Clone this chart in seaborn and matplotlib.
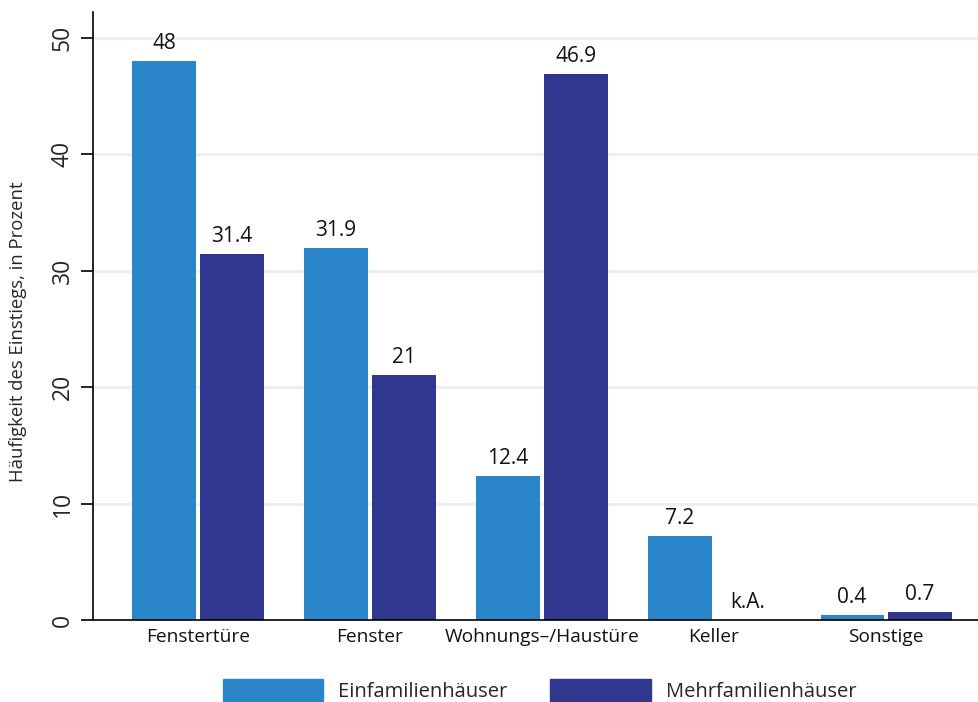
import numpy as np
import pandas as pd
import matplotlib
matplotlib.use("Agg")
import matplotlib.pyplot as plt
import seaborn as sns

# Einstiegsstellen und Anteile (in Prozent)
categories = ["Fenstertüre", "Fenster", "Wohnungs\u2013/Haustüre", "Keller", "Sonstige"]
einfamilien = [48.0, 31.9, 12.4, 7.2, 0.4]
mehrfamilien = [31.4, 21.0, 46.9, np.nan, 0.7]   # Keller: keine Angabe
series_names = ["Einfamilienhäuser", "Mehrfamilienhäuser"]
yticks = [0, 10, 20, 30, 40, 50]

df = pd.DataFrame({
    "Einstieg": categories * 2,
    "Anteil": einfamilien + mehrfamilien,
    "Haustyp": [series_names[0]] * len(categories) + [series_names[1]] * len(categories),
})

sns.set_theme(style="white")
plt.rcParams["font.family"] = ["Open Sans", "DejaVu Sans"]

colors = {series_names[0]: "#2a86c8", series_names[1]: "#30378e"}

fig = plt.figure(figsize=(9.79, 7.02), dpi=100)
ax = fig.add_axes([0.095, 0.1168, 0.905, 0.8662])

sns.barplot(data=df, x="Einstieg", y="Anteil", hue="Haustyp",
            palette=colors, width=0.79, gap=0.07, order=categories,
            hue_order=series_names, saturation=1, linewidth=0, ax=ax)

ax.set_xlim(-0.61, 4.54)
ax.set_ylim(0, 52.2)
ax.set_yticks(yticks)
ax.set_yticklabels([str(t) for t in yticks], rotation=90, va="center", fontsize=16.5)
ax.tick_params(axis="y", which="major", direction="out", length=9, width=1.2,
               color="black", pad=4, left=True)
ax.tick_params(axis="x", length=0, pad=6, labelsize=13.8)
for lbl in ax.get_xticklabels():
    lbl.set_color("#111111")
ax.yaxis.grid(True, color="#eaeff3", linewidth=2)
ax.set_axisbelow(True)

for side in ("top", "right"):
    ax.spines[side].set_visible(False)
for side in ("left", "bottom"):
    ax.spines[side].set_color("black")
    ax.spines[side].set_linewidth(1.2)

ax.set_xlabel("")
ax.set_ylabel("Häufigkeit des Einstiegs, in Prozent", fontsize=13.3)
ax.yaxis.set_label_coords(-0.075, 0.474)

# Balkenmitten je Kategorie aus den gezeichneten Rechtecken ermitteln
values_by_series = [einfamilien, mehrfamilien]
centers = []
for container in ax.containers:
    pos = {}
    for bar in container.patches:
        cx = bar.get_x() + bar.get_width() / 2
        pos[int(round(cx))] = cx
    centers.append(pos)

# Wertebeschriftungen über den Balken ("k.A." bei fehlendem Wert)
for s, vals in enumerate(values_by_series):
    other = centers[1 - s]
    for i, v in enumerate(vals):
        if i in centers[s]:
            cx = centers[s][i]
        else:
            cx = 2 * i - other[i]
        if np.isnan(v):
            txt, y = "k.A.", 0
        else:
            txt, y = f"{v:g}", v
        ax.annotate(txt, (cx, y), xytext=(0, 5), textcoords="offset points",
                    ha="center", va="bottom", fontsize=15, color="#111111")

ax.legend_.remove()
handles = [plt.Rectangle((0, 0), 1, 1, color=colors[n]) for n in series_names]
fig.legend(handles, series_names, loc="center", bbox_to_anchor=(0.551, 0.016),
           ncol=2, frameon=False, fontsize=14.5, handlelength=5.0,
           handleheight=1.3, handletextpad=0.75, columnspacing=2.1)

fig.savefig("out.png", dpi=100)
